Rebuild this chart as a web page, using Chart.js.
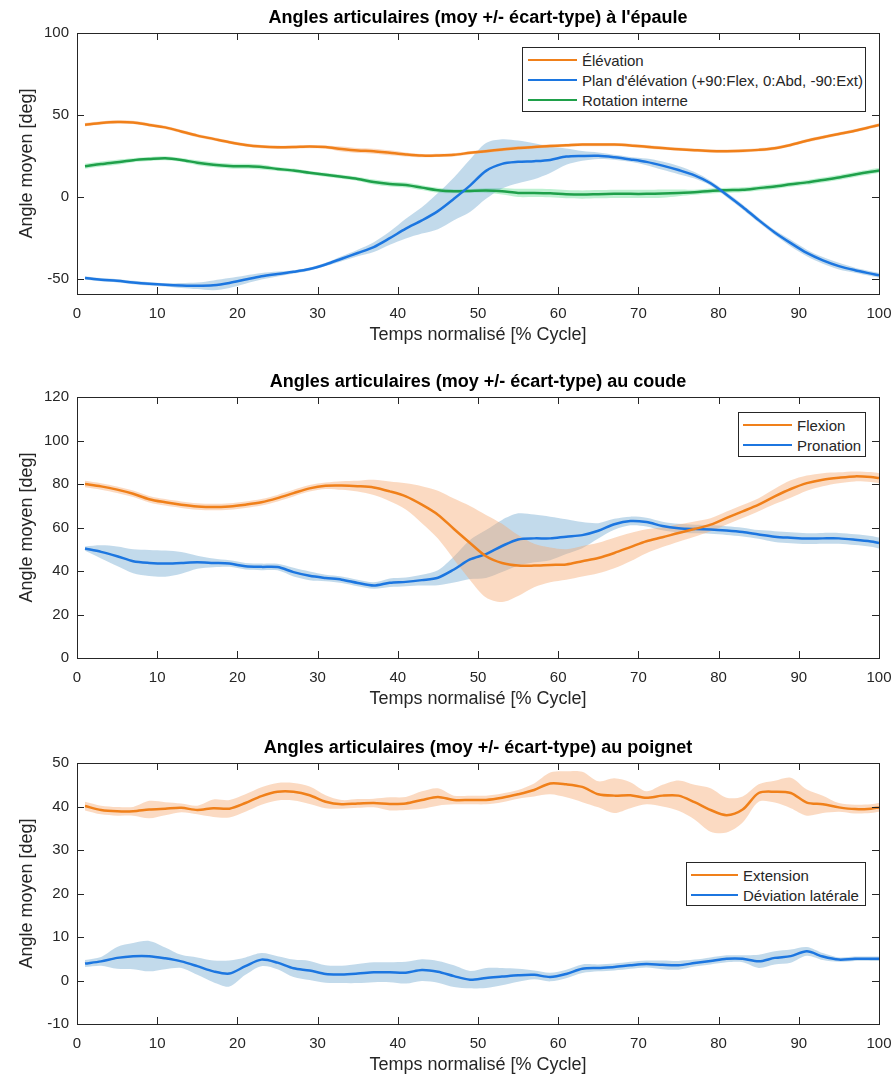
<!DOCTYPE html>
<html lang="fr">
<head>
<meta charset="UTF-8">
<title>Angles articulaires</title>
<script src="https://cdn.jsdelivr.net/npm/chart.js"></script>
<style>
  body { margin: 0; background: #fff; width: 894px; height: 1078px; overflow: hidden; position: relative; font-family: "Liberation Sans", Arial, sans-serif; }
  .panel { position: absolute; left: 0; width: 894px; height: 350px; }
  .legend { position: absolute; background: #fff; border: 1px solid #262626; font-size: 15px; color: #262626; box-sizing: border-box; padding-top: 2px; }
  .legend .row { display: flex; align-items: center; height: 20px; white-space: nowrap; }
  .legend .swatch { display: inline-block; height: 2px; margin-right: 5px; }
</style>
</head>
<body>

<!-- three subplots, each one canvas + a boxed legend -->
<div class="panel" style="top:0"><canvas id="shoulder" width="894" height="350"></canvas>
  <div class="legend" id="shoulderLegend" style="left:522px; top:47px; width:344px; height:65px"></div></div>
<div class="panel" style="top:364px"><canvas id="elbow" width="894" height="350"></canvas>
  <div class="legend" id="elbowLegend" style="left:738px; top:48px; width:128px; height:45px"></div></div>
<div class="panel" style="top:730px"><canvas id="wrist" width="894" height="350"></canvas>
  <div class="legend" id="wristLegend" style="left:686px; top:132px; width:180px; height:44px"></div></div>

<script>
// % cycle, shared by every series
const cycle = [1,3,5,7,9,11,13,15,17,19,21,23,25,27,29,31,33,35,37,39,41,43,45,47,49,51,53,55,57,59,61,63,65,67,69,71,73,75,77,79,81,83,85,87,89,91,93,95,97,99,100];
const xTicks = [0,10,20,30,40,50,60,70,80,90,100];

// épaule
const shoulderTitle = "Angles articulaires (moy +/- écart-type) à l'épaule";
const shoulderNames = ["Élévation", "Plan d'élévation (+90:Flex, 0:Abd, -90:Ext)", "Rotation interne"];
const shoulderElev = [44.1,45.2,45.8,45.5,44.0,42.5,40.0,37.5,35.5,33.5,31.8,30.8,30.4,30.5,30.8,30.5,29.3,28.4,28.0,27.0,26.0,25.3,25.4,25.8,27.0,28.0,29.0,30.0,30.5,31.2,31.6,32.0,32.0,32.0,31.5,30.7,29.9,29.2,28.6,28.1,28.0,28.2,28.8,29.8,31.8,34.4,36.5,38.5,40.5,42.8,44.0];
const shoulderElevSd = [1,1,1,1,1,1,1,1,1,1,1,1,1,1,1,1,1.5,1.5,1.5,1.5,1.2,1,1,1,1,1,1,1,1,1,1,1,1,1,1,1,1,1,1,1,1,1,1,1,1,1,1,1,1,1,1];
const shoulderPlane = [-49.2,-50.3,-51.0,-52.0,-52.8,-53.4,-53.8,-54.0,-53.7,-52.3,-50.2,-48.2,-46.8,-45.5,-43.8,-41.0,-37.5,-34.0,-30.4,-25.0,-19.2,-14.2,-8.5,-1.0,7.0,16.0,20.3,21.5,21.9,22.7,24.7,25.1,25.2,24.3,23.0,21.5,19.2,16.5,13.3,8.5,1.5,-6.0,-14.0,-21.5,-28.0,-34.0,-38.5,-42.0,-44.5,-46.6,-47.6];
const shoulderPlaneSd = [1,1,1,1,1,1,1.5,2,3,3,2.5,2,1.5,1,1,1,1.5,2,3,4,6,8,11,13,16,17,15,13,11,8,5,3,2,1.5,1.5,2,2.5,2.5,2,1.5,1.5,1.5,1.5,1.5,2,2,2,2,1.5,1.5,1.5];
const shoulderRot = [18.8,20.2,21.3,22.5,23.2,23.7,22.7,21.0,19.8,19.0,18.8,18.4,17.2,16.2,14.8,13.6,12.4,11.1,9.2,8.0,7.4,5.8,4.2,3.6,3.8,4.0,3.6,2.6,2.6,2.4,1.8,1.6,1.8,2.0,2.0,2.0,2.2,2.6,3.0,3.8,4.2,4.5,5.5,6.5,7.8,9.0,10.5,12.0,13.8,15.5,16.2];
const shoulderRotSd = [1.5,1.5,1.5,1.2,1.2,1.2,1.2,1.5,1.5,1.5,1.5,1.5,1.2,1.2,1.2,1.2,1.2,1.2,1.5,1.5,1.5,1.5,1.5,1.2,1.2,1.5,2,2.5,2.5,2.5,2.5,2.5,2.5,2.5,2.5,2.5,2.5,2,1.5,1.5,1.5,1.5,1.5,1.5,1.5,1.5,1.5,1.5,1.5,1.5,1.5];
const shoulderTicks = [-50, 0, 50, 100];

// coude
const elbowTitle = "Angles articulaires (moy +/- écart-type) au coude";
const elbowNames = ["Flexion", "Pronation"];
const elbowFlex = [80.0,78.9,77.4,75.5,73.0,71.6,70.5,69.7,69.4,69.7,70.5,71.6,73.5,75.8,78.0,79.2,79.3,79.0,78.4,76.6,74.3,70.5,65.9,59.3,52.9,46.8,43.7,42.5,42.5,42.8,43.0,44.5,46.0,48.3,51.0,53.7,55.5,57.5,59.3,61.3,64.4,67.4,70.5,74.3,77.7,80.4,82.0,82.9,83.5,83.2,82.7];
const elbowFlexSd = [1.5,1.5,1.5,1.5,1.5,1.5,1.5,1.5,1.5,1.5,1.5,1.5,1.5,1.5,1.5,1.5,2,2.5,3.5,4.5,6,8.5,11,14,17,19,18,14,10,8,7,7,7,7,6.5,5.5,4.5,4,3.5,3,3,3,3,3.5,4,3.5,3,2.5,2.3,2.3,2.3];
const elbowPron = [50.3,48.8,46.8,44.5,43.7,43.4,43.7,44.0,43.7,43.4,42.2,41.9,41.8,39.5,37.8,36.8,36.0,34.5,33.3,34.6,35.0,35.8,36.9,40.7,45.3,47.8,51.5,54.5,55.0,55.0,55.8,56.5,58.5,61.5,63.0,62.5,60.7,59.7,59.3,59.1,58.6,57.9,56.8,55.8,55.3,54.9,55.0,55.0,54.4,53.6,52.9];
const elbowPronSd = [1,3,4.5,5.5,6,6,5,3,2,1.5,1.5,1.5,1.5,2,2,1.5,1.5,1.5,1.5,2,2,2.5,3.5,6,9,11,12,12,11,10,8,6,3.5,2.5,2,2,2,2,2,2,2,2,2,2.5,2.5,2.5,2.5,2.5,2.5,2.5,2.5];
const elbowTicks = [0, 20, 40, 60, 80, 100, 120];

// poignet
const wristTitle = "Angles articulaires (moy +/- écart-type) au poignet";
const wristNames = ["Extension", "Déviation latérale"];
const wristExt = [40.1,39.2,38.9,38.9,39.3,39.5,39.7,39.2,39.6,39.5,40.8,42.4,43.4,43.4,42.6,41.1,40.5,40.7,40.8,40.6,40.7,41.5,42.2,41.5,41.5,41.5,42.0,42.8,43.8,45.3,45.1,44.5,42.8,42.5,42.6,42.0,42.5,42.5,41.0,39.2,38.0,39.3,43.1,43.4,43.1,40.9,40.5,39.8,39.4,39.5,39.8];
const wristExtSd = [1,1,1,1,2,1.5,1,1,2,2,2,2,2,2,2,1.5,1,1,1,1.5,1.5,2,2,1,1,1,1,1,1.5,2.5,3,3.5,3,4,3,1.5,2.5,3.5,4,5,4,3,2,2.5,3.5,3,2,1,1,1,1];
const wristDev = [3.9,4.4,5.2,5.6,5.6,5.1,4.4,3.3,2.1,1.6,3.3,4.8,4.1,2.8,2.3,1.5,1.4,1.6,1.9,1.9,1.8,2.4,2.0,1.0,0.2,0.6,0.9,1.2,1.3,0.8,1.5,2.7,2.9,3.1,3.5,3.8,3.6,3.5,4.0,4.5,5.0,5.0,4.4,5.2,5.6,6.7,5.5,4.8,5.0,5.0,5.0];
const wristDevSd = [0.8,1,2.5,3,3.5,2.5,1.5,2,2.5,3,2,1.5,1.5,2,2.2,2,2,2.2,2.3,2.3,2.5,2.5,2.5,2.5,2,2.3,2,1.5,1,1,1,1,0.8,0.8,0.8,0.8,1,1,0.8,0.8,0.8,0.8,1.5,1.5,1.5,1,0.8,0.5,0.5,0.5,0.5];
const wristTicks = [-10, 0, 10, 20, 30, 40, 50];

const lineColors = ['#F0801A', '#1C76E0', '#1FA04A'];
const bandColors = ['rgba(246,166,110,0.42)', 'rgba(120,172,210,0.45)', 'rgba(90,220,140,0.40)'];
const axisColor = '#262626';
Chart.defaults.font.family = '"Liberation Sans", Arial, sans-serif';

// MATLAB-style box with inward ticks on all four sides
const matlabBox = {
  id: 'matlabBox',
  afterDraw(chart) {
    const { ctx, chartArea: a, scales: { x, y } } = chart;
    ctx.save();
    ctx.strokeStyle = axisColor;
    ctx.lineWidth = 1;
    ctx.beginPath();
    x.ticks.forEach(t => {
      const px = Math.round(x.getPixelForValue(t.value)) + 0.5;
      ctx.moveTo(px, a.bottom); ctx.lineTo(px, a.bottom - 7);
      ctx.moveTo(px, a.top); ctx.lineTo(px, a.top + 7);
    });
    y.ticks.forEach(t => {
      const py = Math.round(y.getPixelForValue(t.value)) + 0.5;
      ctx.moveTo(a.left, py); ctx.lineTo(a.left + 7, py);
      ctx.moveTo(a.right, py); ctx.lineTo(a.right - 7, py);
    });
    ctx.stroke();
    ctx.strokeRect(Math.round(a.left) + 0.5, Math.round(a.top) + 0.5, Math.round(a.right - a.left), Math.round(a.bottom - a.top));
    ctx.restore();
  }
};

function makePanel(id, title, names, means, sds, yMin, yMax, yTicks) {
  const datasets = [];
  means.forEach((m, i) => {
    datasets.push({
      data: cycle.map((x, k) => ({ x, y: m[k] + sds[i][k] })),
      borderColor: 'rgba(0,0,0,0)', borderWidth: 0, backgroundColor: bandColors[i],
      fill: '+1', order: 1
    });
    datasets.push({
      data: cycle.map((x, k) => ({ x, y: m[k] - sds[i][k] })),
      borderColor: 'rgba(0,0,0,0)', borderWidth: 0, fill: false, order: 1
    });
    datasets.push({
      label: names[i],
      data: cycle.map((x, k) => ({ x, y: m[k] })),
      borderColor: lineColors[i], borderWidth: 2.5, fill: false, order: 0
    });
  });

  new Chart(document.getElementById(id), {
    type: 'line',
    data: { datasets },
    plugins: [matlabBox],
    options: {
      responsive: false,
      animation: false,
      devicePixelRatio: 1,
      layout: { padding: { left: 0, right: 15, top: 0, bottom: 0 } },
      elements: { point: { radius: 0 }, line: { tension: 0.3 } },
      plugins: {
        legend: { display: false },
        tooltip: { enabled: false },
        title: {
          display: true, text: title, fullSize: false, color: '#000',
          font: { size: 18, weight: 'bold' }, padding: { top: 7, bottom: 4.4 }
        }
      },
      scales: {
        x: {
          type: 'linear', min: 0, max: 100,
          afterBuildTicks: s => { s.ticks = xTicks.map(v => ({ value: v })); },
          afterFit: s => { s.height = 56; s.paddingLeft = 0; s.paddingRight = 0; },
          grid: { display: false, drawTicks: false },
          border: { display: false },
          ticks: { color: axisColor, font: { size: 15 }, padding: 11, maxRotation: 0, autoSkip: false },
          title: { display: true, text: 'Temps normalisé [% Cycle]', color: axisColor, font: { size: 18 }, padding: { top: 0, bottom: 4 } }
        },
        y: {
          min: yMin, max: yMax,
          afterBuildTicks: s => { s.ticks = yTicks.map(v => ({ value: v })); },
          afterFit: s => { s.width = 77; },
          grid: { display: false, drawTicks: false },
          border: { display: false },
          ticks: { color: axisColor, font: { size: 15 }, padding: 8 },
          title: { display: true, text: 'Angle moyen [deg]', color: axisColor, font: { size: 18 }, padding: { top: 16, bottom: 0 } }
        }
      }
    }
  });
}

function makeLegend(id, names, swatchWidth, indent) {
  const box = document.getElementById(id);
  names.forEach((name, i) => {
    const row = document.createElement('div');
    row.className = 'row';
    row.style.paddingLeft = indent + 'px';
    const sw = document.createElement('span');
    sw.className = 'swatch';
    sw.style.width = swatchWidth + 'px';
    sw.style.background = lineColors[i];
    const label = document.createElement('span');
    label.textContent = name;
    row.appendChild(sw);
    row.appendChild(label);
    box.appendChild(row);
  });
}

makePanel('shoulder', shoulderTitle, shoulderNames,
  [shoulderElev, shoulderPlane, shoulderRot], [shoulderElevSd, shoulderPlaneSd, shoulderRotSd],
  -59, 100, shoulderTicks);
makePanel('elbow', elbowTitle, elbowNames,
  [elbowFlex, elbowPron], [elbowFlexSd, elbowPronSd], 0, 120, elbowTicks);
makePanel('wrist', wristTitle, wristNames,
  [wristExt, wristDev], [wristExtSd, wristDevSd], -10, 50, wristTicks);

makeLegend('shoulderLegend', shoulderNames, 49, 5);
makeLegend('elbowLegend', elbowNames, 49, 4);
makeLegend('wristLegend', wristNames, 47, 4);
</script>
</body>
</html>
